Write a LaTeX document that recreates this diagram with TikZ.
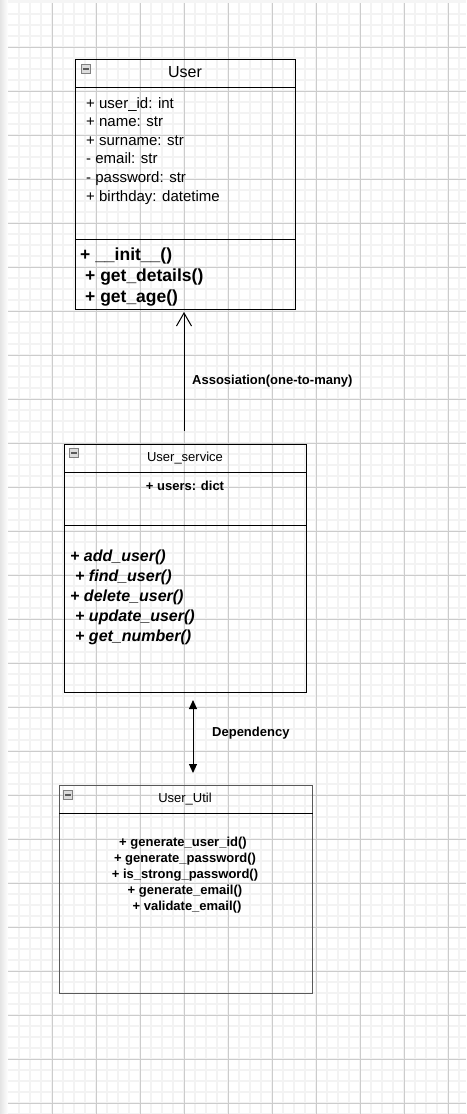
\documentclass[tikz,border=0pt]{standalone}
\usepackage{fontspec}
\setmainfont{Liberation Sans}
\usetikzlibrary{arrows.meta}
\definecolor{gminor}{HTML}{F3F3F3}
\definecolor{gmajor}{HTML}{CCCCCC}
\definecolor{iconbg}{HTML}{DCDCDC}
\definecolor{iconfg}{HTML}{808080}
\definecolor{pageshadow}{HTML}{E4E4E4}
\tikzset{
  minorline/.style={draw=gminor, line width=1.5pt},
  majorline/.style={draw=gmajor, line width=0.9pt},
  umlbox/.style={draw=black, line width=1pt, anchor=north west, inner sep=0pt},
  utilbox/.style={draw=black!65, line width=1.4pt, anchor=north west, inner sep=0pt},
  sepline/.style={draw=black, line width=0.9pt},
  icon/.style={draw=iconfg, fill=iconbg, line width=0.8pt, anchor=north west, minimum size=9pt, inner sep=0pt,
    path picture={\draw[iconfg!70!black, line width=1.3pt] ([xshift=1.5pt]path picture bounding box.west) -- ([xshift=-1.5pt]path picture bounding box.east);}},
  txt/.style={inner sep=0pt, anchor=base west, text=black},
  ctxt/.style={inner sep=0pt, anchor=base, text=black},
  assoc/.style={draw=black, line width=1pt, -{Straight Barb[length=13pt, width=15pt, line width=1pt]}},
  dep/.style={draw=black, line width=1pt, {Triangle[length=9pt, width=8pt]}-{Triangle[length=9pt, width=8pt]}},
}
\begin{document}
\begin{tikzpicture}[x=1pt,y=-1pt]
\useasboundingbox (0,0) rectangle (466,1114);
\fill[white] (0,0) rectangle (466,1114);
% page shadow
\shade[left color=pageshadow, right color=white] (0,0) rectangle (8,1114);
\fill[gray!8] (8,0) rectangle (466,3);
% grid
\foreach \gx in {19,30,...,466} \draw[minorline] (\gx,3) -- (\gx,1114);
\foreach \gy in {14,25,...,1114} \draw[minorline] (8,\gy) -- (466,\gy);
\foreach \gx in {52,96,...,466} \draw[majorline] (\gx,3) -- (\gx,1114);
\foreach \gy in {47,91,...,1114} \draw[majorline] (8,\gy) -- (466,\gy);

% ---------- User ----------
\node[umlbox, minimum width=220pt, minimum height=250pt] (user) at (75,59) {};
\draw[sepline] ([yshift=-28pt]user.north west) -- ([yshift=-28pt]user.north east);
\draw[sepline] ([yshift=-180pt]user.north west) -- ([yshift=-180pt]user.north east);
\node[icon] (usericon) at ([xshift=6pt,yshift=-5pt]user.north west) {};
\node[ctxt, font=\fontsize{16}{19}\selectfont] (usertitle) at (185,77.5) {User};
\begin{scope}[font=\fontsize{15}{18}\selectfont]
\node[txt] (ua1) at (86,108) {+ user\_id: int};
\node[txt] (ua2) at (86,126.6) {+ name: str};
\node[txt] (ua3) at (86,145.2) {+ surname: str};
\node[txt] (ua4) at (86,163.8) {- email: str};
\node[txt] (ua5) at (86,182.4) {- password: str};
\node[txt] (ua6) at (86,201) {+ birthday: datetime};
\end{scope}
\begin{scope}[font=\fontsize{17.5}{21}\selectfont\bfseries]
\node[txt] (um1) at (80,260) {+ \_\_init\_\_()};
\node[txt] (um2) at (85,281.5) {+ get\_details()};
\node[txt] (um3) at (85,302) {+ get\_age()};
\end{scope}

% ---------- User_service ----------
\node[umlbox, minimum width=242pt, minimum height=248pt] (svc) at (64,444) {};
\draw[sepline] ([yshift=-28pt]svc.north west) -- ([yshift=-28pt]svc.north east);
\draw[sepline] ([yshift=-81pt]svc.north west) -- ([yshift=-81pt]svc.north east);
\node[icon] (svcicon) at ([xshift=5pt,yshift=-4pt]svc.north west) {};
\node[ctxt, font=\fontsize{13}{16}\selectfont] (svctitle) at (185,461.5) {User\_service};
\node[ctxt, font=\fontsize{13}{16}\selectfont\bfseries] (svca1) at (185,490.5) {+ users: dict};
\begin{scope}[font=\fontsize{16}{19}\selectfont\bfseries\itshape]
\node[txt] (sm1) at (70,561.5) {+ add\_user()};
\node[txt] (sm2) at (75,581.5) {+ find\_user()};
\node[txt] (sm3) at (70,601.5) {+ delete\_user()};
\node[txt] (sm4) at (75,621.5) {+ update\_user()};
\node[txt] (sm5) at (75,641.5) {+ get\_number()};
\end{scope}

% ---------- User_Util ----------
\node[utilbox, minimum width=253pt, minimum height=208pt] (util) at (59,785) {};
\draw[sepline] ([yshift=-28pt]util.north west) -- ([yshift=-28pt]util.north east);
\node[icon] (utilicon) at ([xshift=4pt,yshift=-5pt]util.north west) {};
\node[ctxt, font=\fontsize{13}{16}\selectfont] (utiltitle) at (185,802.5) {User\_Util};
\begin{scope}[font=\fontsize{13}{16}\selectfont\bfseries]
\node[ctxt] (tm1) at (183,846.5) {+ generate\_user\_id()};
\node[ctxt] (tm2) at (185,862.5) {+ generate\_password()};
\node[ctxt] (tm3) at (185,878.5) {+ is\_strong\_password()};
\node[ctxt] (tm4) at (185,894.5) {+ generate\_email()};
\node[ctxt] (tm5) at (187,910.5) {+ validate\_email()};
\end{scope}

% ---------- connectors ----------
\coordinate (a1) at (184,431);
\draw[assoc] (a1) -- ([yshift=-2pt]user.south -| a1);
\node[txt, font=\fontsize{13}{16}\selectfont\bfseries] (assoclabel) at (192,384) {Assosiation(one-to-many)};

\coordinate (d1) at (193,700);
\draw[dep, shorten <=7pt, shorten >=12pt] (svc.south -| d1) -- (util.north -| d1);
\node[txt, font=\fontsize{13}{16}\selectfont\bfseries] (deplabel) at (212,736.5) {Dependency};
\end{tikzpicture}
\end{document}
